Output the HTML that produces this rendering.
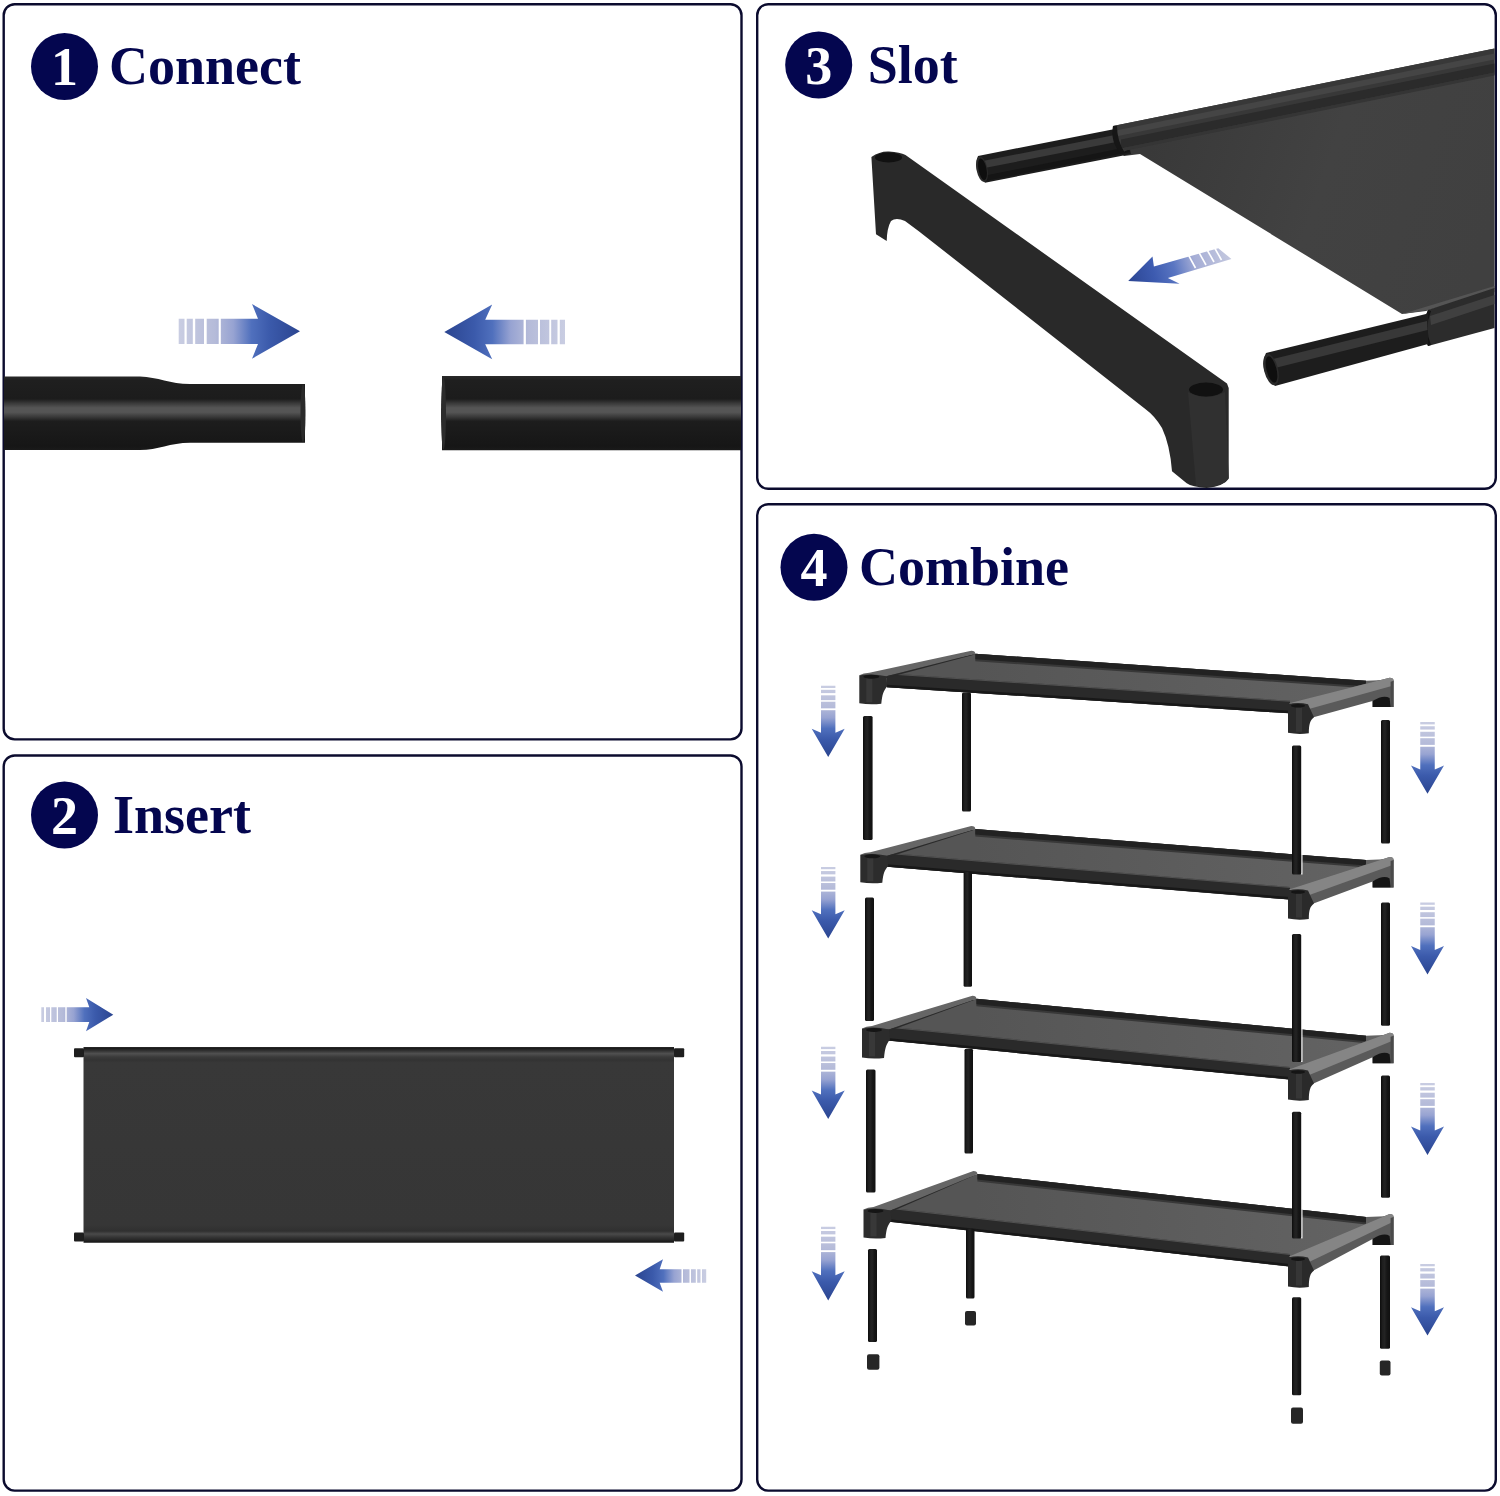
<!DOCTYPE html><html><head><meta charset="utf-8"><style>html,body{margin:0;padding:0;background:#fff;}body{width:1500px;height:1496px;overflow:hidden;font-family:"Liberation Serif",serif;}svg{display:block}</style></head><body><svg width="1500" height="1496" viewBox="0 0 1500 1496"><defs><linearGradient id="tubeg" gradientUnits="userSpaceOnUse" x1="0" y1="376" x2="0" y2="450"><stop offset="0" stop-color="#2a2a2a"/><stop offset="0.06" stop-color="#1f1f1f"/><stop offset="0.31" stop-color="#1c1c1c"/><stop offset="0.37" stop-color="#3a3a3a"/><stop offset="0.43" stop-color="#555555"/><stop offset="0.49" stop-color="#555555"/><stop offset="0.55" stop-color="#3a3a3a"/><stop offset="0.61" stop-color="#1d1d1d"/><stop offset="0.95" stop-color="#161616"/><stop offset="1" stop-color="#1a1a1a"/></linearGradient><linearGradient id="ag1" gradientUnits="userSpaceOnUse" x1="178.7" y1="0" x2="300" y2="0"><stop offset="0" stop-color="#c9cde2"/><stop offset="0.3" stop-color="#b5bbd9"/><stop offset="0.45" stop-color="#97a3d2"/><stop offset="0.6" stop-color="#5070bd"/><stop offset="0.75" stop-color="#3b5aab"/><stop offset="1" stop-color="#2b4590"/></linearGradient><linearGradient id="ag2" gradientUnits="userSpaceOnUse" x1="565" y1="0" x2="444.3" y2="0"><stop offset="0" stop-color="#c9cde2"/><stop offset="0.3" stop-color="#b5bbd9"/><stop offset="0.45" stop-color="#97a3d2"/><stop offset="0.6" stop-color="#5070bd"/><stop offset="0.75" stop-color="#3b5aab"/><stop offset="1" stop-color="#2b4590"/></linearGradient><linearGradient id="shelf2" gradientUnits="userSpaceOnUse" x1="0" y1="1047" x2="0" y2="1243"><stop offset="0.0000" stop-color="#2a2a2a"/><stop offset="0.0077" stop-color="#1c1c1c"/><stop offset="0.0179" stop-color="#303030"/><stop offset="0.0337" stop-color="#505050"/><stop offset="0.0510" stop-color="#3a3a3a"/><stop offset="0.0663" stop-color="#333333"/><stop offset="0.0816" stop-color="#383838"/><stop offset="0.9082" stop-color="#363636"/><stop offset="0.9388" stop-color="#303030"/><stop offset="0.9541" stop-color="#4a4a4a"/><stop offset="0.9694" stop-color="#363636"/><stop offset="0.9847" stop-color="#262626"/><stop offset="0.9923" stop-color="#1c1c1c"/><stop offset="1.0000" stop-color="#2a2a2a"/></linearGradient><linearGradient id="ag3" gradientUnits="userSpaceOnUse" x1="41.3" y1="0" x2="113.3" y2="0"><stop offset="0" stop-color="#c9cde2"/><stop offset="0.3" stop-color="#b5bbd9"/><stop offset="0.45" stop-color="#97a3d2"/><stop offset="0.6" stop-color="#5070bd"/><stop offset="0.75" stop-color="#3b5aab"/><stop offset="1" stop-color="#2b4590"/></linearGradient><linearGradient id="ag4" gradientUnits="userSpaceOnUse" x1="706.2" y1="0" x2="635" y2="0"><stop offset="0" stop-color="#c9cde2"/><stop offset="0.3" stop-color="#b5bbd9"/><stop offset="0.45" stop-color="#97a3d2"/><stop offset="0.6" stop-color="#5070bd"/><stop offset="0.75" stop-color="#3b5aab"/><stop offset="1" stop-color="#2b4590"/></linearGradient><linearGradient id="fab3" gradientUnits="userSpaceOnUse" x1="1150" y1="150" x2="1480" y2="260"><stop offset="0" stop-color="#393939"/><stop offset="0.5" stop-color="#424242"/><stop offset="1" stop-color="#404040"/></linearGradient><linearGradient id="ag5" gradientUnits="userSpaceOnUse" x1="1231" y1="252" x2="1128" y2="281"><stop offset="0" stop-color="#c5c9df"/><stop offset="0.35" stop-color="#a6aed6"/><stop offset="0.55" stop-color="#5a76c2"/><stop offset="0.75" stop-color="#3d5bb0"/><stop offset="1" stop-color="#2b4592"/></linearGradient><linearGradient id="legg" x1="0" y1="0" x2="1" y2="0"><stop offset="0" stop-color="#0c0c0c"/><stop offset="0.25" stop-color="#1e1e1e"/><stop offset="0.45" stop-color="#232323"/><stop offset="0.7" stop-color="#161616"/><stop offset="1" stop-color="#101010"/></linearGradient><linearGradient id="dl0" gradientUnits="userSpaceOnUse" x1="0" y1="685.7" x2="0" y2="756.9"><stop offset="0" stop-color="#c9cde2"/><stop offset="0.3" stop-color="#b5bbd9"/><stop offset="0.45" stop-color="#97a3d2"/><stop offset="0.6" stop-color="#5070bd"/><stop offset="0.75" stop-color="#3b5aab"/><stop offset="1" stop-color="#2b4590"/></linearGradient><linearGradient id="dl1" gradientUnits="userSpaceOnUse" x1="0" y1="866.9" x2="0" y2="938.6"><stop offset="0" stop-color="#c9cde2"/><stop offset="0.3" stop-color="#b5bbd9"/><stop offset="0.45" stop-color="#97a3d2"/><stop offset="0.6" stop-color="#5070bd"/><stop offset="0.75" stop-color="#3b5aab"/><stop offset="1" stop-color="#2b4590"/></linearGradient><linearGradient id="dl2" gradientUnits="userSpaceOnUse" x1="0" y1="1046.8" x2="0" y2="1119"><stop offset="0" stop-color="#c9cde2"/><stop offset="0.3" stop-color="#b5bbd9"/><stop offset="0.45" stop-color="#97a3d2"/><stop offset="0.6" stop-color="#5070bd"/><stop offset="0.75" stop-color="#3b5aab"/><stop offset="1" stop-color="#2b4590"/></linearGradient><linearGradient id="dl3" gradientUnits="userSpaceOnUse" x1="0" y1="1226.7" x2="0" y2="1300.5"><stop offset="0" stop-color="#c9cde2"/><stop offset="0.3" stop-color="#b5bbd9"/><stop offset="0.45" stop-color="#97a3d2"/><stop offset="0.6" stop-color="#5070bd"/><stop offset="0.75" stop-color="#3b5aab"/><stop offset="1" stop-color="#2b4590"/></linearGradient><linearGradient id="dr0" gradientUnits="userSpaceOnUse" x1="0" y1="722.1" x2="0" y2="793.7"><stop offset="0" stop-color="#c9cde2"/><stop offset="0.3" stop-color="#b5bbd9"/><stop offset="0.45" stop-color="#97a3d2"/><stop offset="0.6" stop-color="#5070bd"/><stop offset="0.75" stop-color="#3b5aab"/><stop offset="1" stop-color="#2b4590"/></linearGradient><linearGradient id="dr1" gradientUnits="userSpaceOnUse" x1="0" y1="902.5" x2="0" y2="974.4"><stop offset="0" stop-color="#c9cde2"/><stop offset="0.3" stop-color="#b5bbd9"/><stop offset="0.45" stop-color="#97a3d2"/><stop offset="0.6" stop-color="#5070bd"/><stop offset="0.75" stop-color="#3b5aab"/><stop offset="1" stop-color="#2b4590"/></linearGradient><linearGradient id="dr2" gradientUnits="userSpaceOnUse" x1="0" y1="1083" x2="0" y2="1154.9"><stop offset="0" stop-color="#c9cde2"/><stop offset="0.3" stop-color="#b5bbd9"/><stop offset="0.45" stop-color="#97a3d2"/><stop offset="0.6" stop-color="#5070bd"/><stop offset="0.75" stop-color="#3b5aab"/><stop offset="1" stop-color="#2b4590"/></linearGradient><linearGradient id="dr3" gradientUnits="userSpaceOnUse" x1="0" y1="1264" x2="0" y2="1335.5"><stop offset="0" stop-color="#c9cde2"/><stop offset="0.3" stop-color="#b5bbd9"/><stop offset="0.45" stop-color="#97a3d2"/><stop offset="0.6" stop-color="#5070bd"/><stop offset="0.75" stop-color="#3b5aab"/><stop offset="1" stop-color="#2b4590"/></linearGradient></defs><rect x="3.7" y="4.2" width="737.8000000000001" height="735.2" rx="11" ry="11" fill="none" stroke="#0b0b2e" stroke-width="2.4"/><rect x="3.7" y="755.5" width="737.8000000000001" height="735.1" rx="11" ry="11" fill="none" stroke="#0b0b2e" stroke-width="2.4"/><rect x="757.2" y="4.2" width="738.6" height="484.6" rx="11" ry="11" fill="none" stroke="#0b0b2e" stroke-width="2.4"/><rect x="757.2" y="504.2" width="738.6" height="986.4" rx="11" ry="11" fill="none" stroke="#0b0b2e" stroke-width="2.4"/><circle cx="64.5" cy="66.5" r="33.5" fill="#04064f"/><text x="64.5" y="85.0" text-anchor="middle" font-family="Liberation Serif" font-weight="bold" font-size="54" fill="#fff">1</text><text x="109" y="83.5" font-family="Liberation Serif" font-weight="bold" font-size="54" fill="#04064f">Connect</text><circle cx="818.7" cy="65" r="33.5" fill="#04064f"/><text x="818.7" y="83.5" text-anchor="middle" font-family="Liberation Serif" font-weight="bold" font-size="54" fill="#fff">3</text><text x="867.7" y="83" font-family="Liberation Serif" font-weight="bold" font-size="54" fill="#04064f">Slot</text><circle cx="64.5" cy="815" r="33.5" fill="#04064f"/><text x="64.5" y="833.5" text-anchor="middle" font-family="Liberation Serif" font-weight="bold" font-size="54" fill="#fff">2</text><text x="113" y="832.5" font-family="Liberation Serif" font-weight="bold" font-size="54" fill="#04064f">Insert</text><circle cx="814" cy="567.3" r="33.5" fill="#04064f"/><text x="814" y="585.8" text-anchor="middle" font-family="Liberation Serif" font-weight="bold" font-size="54" fill="#fff">4</text><text x="859" y="585" font-family="Liberation Serif" font-weight="bold" font-size="54" fill="#04064f">Combine</text><path d="M4,376.5 L140,376.5 C158,377 170,384 190,384 L305,384 L305,442.7 L190,442.7 C170,442.7 158,450 140,450 L4,450 Z" fill="url(#tubeg)"/><ellipse cx="303" cy="413.3" rx="2.5" ry="29" fill="#2a2a2a"/><path d="M442,376.1 L741,376.1 L741,450.3 L442,450.3 Z" fill="url(#tubeg)"/><ellipse cx="443.5" cy="413.2" rx="2.5" ry="36" fill="#2c2c2c"/><path d="M178.7,318.7 L258,318.7 L252,304 L300,331.35 L252,358.7 L258,344 L178.7,344 Z" fill="url(#ag1)"/><rect x="184.5" y="317.7" width="2.1999999999999886" height="27.30000000000001" fill="#fff"/><rect x="192.8" y="317.7" width="2.3999999999999773" height="27.30000000000001" fill="#fff"/><rect x="204" y="317.7" width="2.6999999999999886" height="27.30000000000001" fill="#fff"/><rect x="218.7" y="317.7" width="2.1000000000000227" height="27.30000000000001" fill="#fff"/><path d="M565,319.7 L485.2,319.7 L492.2,304.5 L444.3,331.9 L492.2,359.3 L485.2,344.2 L565,344.2 Z" fill="url(#ag2)"/><rect x="538" y="318.7" width="2" height="26.5" fill="#fff"/><rect x="549.3" y="318.7" width="1.900000000000091" height="26.5" fill="#fff"/><rect x="557.5" y="318.7" width="2.2999999999999545" height="26.5" fill="#fff"/><rect x="523.6" y="318.7" width="2.2999999999999545" height="26.5" fill="#fff"/><rect x="83.5" y="1047" width="590.5" height="195.8" fill="url(#shelf2)"/><rect x="74" y="1048.2" width="10" height="9" rx="1" fill="#1e1e1e"/><rect x="74" y="1232.6" width="10" height="9" rx="1" fill="#1e1e1e"/><rect x="674" y="1048.2" width="10.200000000000045" height="9" rx="1" fill="#1e1e1e"/><rect x="674" y="1232.6" width="10.200000000000045" height="9" rx="1" fill="#1e1e1e"/><path d="M41.3,1007.3 L89.3,1007.3 L86,998 L113.3,1014.65 L86,1031.3 L89.3,1022 L41.3,1022 Z" fill="url(#ag3)"/><rect x="44" y="1006.3" width="2" height="16.700000000000045" fill="#fff"/><rect x="50" y="1006.3" width="1.2999999999999972" height="16.700000000000045" fill="#fff"/><rect x="56.7" y="1006.3" width="1.2999999999999972" height="16.700000000000045" fill="#fff"/><rect x="65.3" y="1006.3" width="1.4000000000000057" height="16.700000000000045" fill="#fff"/><path d="M706.2,1269.2 L659.7,1269.2 L663,1259.2 L635,1275.45 L663,1291.7 L659.7,1282.7 L706.2,1282.7 Z" fill="url(#ag4)"/><rect x="700.5" y="1268.2" width="1.5" height="15.5" fill="#fff"/><rect x="695.8" y="1268.2" width="1.400000000000091" height="15.5" fill="#fff"/><rect x="689.5" y="1268.2" width="1.5" height="15.5" fill="#fff"/><rect x="681.5" y="1268.2" width="1.5" height="15.5" fill="#fff"/><path d="M1113,126 L1494.5,48.5 L1494.5,289 L1426,311 L1402,314 L1140,154 L1124,156 L1118,150 Z" fill="url(#fab3)"/><path d="M978,156 L1125,127 L1131,154 L985,182.7 Q972,170 978,156 Z" fill="#1d1d1d"/><path d="M980,161.5 L1125,133 L1126.5,140 L982,168.5 Z" fill="#3a3a3a"/><path d="M983,176 L1128,147 L1130,152 L985,181 Z" fill="#151515"/><ellipse cx="982" cy="169.3" rx="5.5" ry="13" transform="rotate(-11 982 169.3)" fill="#2a2a2a"/><ellipse cx="982.5" cy="169.3" rx="4" ry="11" transform="rotate(-11 982.5 169.3)" fill="#0e0e0e"/><path d="M1113,126 L1494.5,48.5 L1494.5,74.5 L1126,150.4 L1122,153 Q1112,140 1113,126 Z" fill="#383838"/><path d="M1117,130.2 L1494.5,53.5 L1494.5,59.5 L1117,136.2 Z" fill="#454545"/><path d="M1121,139.4 L1494.5,63.5 L1494.5,72.5 L1121,148.4 Z" fill="#2b2b2b"/><path d="M1124,147.8 L1494.5,72.5 L1494.5,75.5 L1124,150.8 Z" fill="#353535"/><path d="M1113,126 Q1110,142 1121,154 L1125,153 Q1117,141 1117,126 Z" fill="#161616"/><path d="M1402,314 L1494.5,286 L1494.5,292 L1428,310 Z" fill="#555"/><path d="M1428,310 L1494.5,288 L1494.5,328 L1428,346 Q1420,328 1428,310 Z" fill="#2c2c2c"/><path d="M1430,316 L1494.5,295 L1494.5,304 L1431,325 Z" fill="#404040"/><path d="M1428,310 Q1420,328 1428,346 L1431,345 Q1424,328 1431,311 Z" fill="#141414"/><path d="M1266,353 L1428,313.5 L1428,344 L1275,386 Q1258,370 1266,353 Z" fill="#1d1d1d"/><path d="M1269,360 L1427,321 L1427.5,330 L1271,369 Z" fill="#383838"/><ellipse cx="1271" cy="369.5" rx="7" ry="16" transform="rotate(-14 1271 369.5)" fill="#2a2a2a"/><ellipse cx="1271.5" cy="369.5" rx="5" ry="13.5" transform="rotate(-14 1271.5 369.5)" fill="#0e0e0e"/><path d="M871.4,157 Q880,151 889,151.5 Q900,152 905.5,155.1 L1227,383.4 L1228.7,388 L1228.7,478.7 Q1224,486 1206.7,488 Q1192,487 1186.7,483.3 L1172,471.3 Q1170,445 1162,428 Q1155,416 1145.6,409.2 L918.8,231.2 L905,221 Q896,217 891,221 Q887,228 886.7,241 L876,234.3 Z" fill="#292929"/><ellipse cx="888.5" cy="157.5" rx="13.5" ry="5" fill="#111"/><ellipse cx="1206" cy="389.6" rx="17" ry="7" fill="#111"/><path d="M1188,392 Q1206,402 1225,392 L1228.7,478 Q1224,486 1208,487 L1196,486 Z" fill="#303030"/><path d="M1128.2,280.9 L1152.5,256.6 L1153.9,266.4 L1218.3,248.2 L1231.4,259 L1167.9,278.1 L1179.6,283.7 Z" fill="url(#ag5)"/><line x1="1186.5" y1="251.5" x2="1195.5" y2="268" stroke="#fff" stroke-width="1.6"/><line x1="1197" y1="249" x2="1206" y2="265" stroke="#fff" stroke-width="1.6"/><line x1="1205.5" y1="247" x2="1214" y2="262" stroke="#fff" stroke-width="1.6"/><line x1="1213" y1="245" x2="1221.5" y2="260" stroke="#fff" stroke-width="1.6"/><linearGradient id="fab674" gradientUnits="userSpaceOnUse" x1="975" y1="0" x2="1370" y2="0"><stop offset="0" stop-color="#555555"/><stop offset="1" stop-color="#636363"/></linearGradient><path d="M879.3,674.2 L975.3,653.7 L1366,680.7 L1391.6,679.7 L1289.0,705.3 L1288.0,713.3 L887.3,687.2 Z" fill="url(#fab674)"/><path d="M975.3,653.7 L1366,680.7 L1366,688.2 L975.3,661.2 Z" fill="#383838"/><path d="M975.3,653.7 L1366,680.7 L1366,686.2 L975.3,659.2 Z" fill="#222222"/><path d="M887,673.2 L1290.0,700.8 L1290.0,713.3 L887,687.2 Z" fill="#2a2a2a"/><path d="M887,684.7 L1290.0,710.8 L1290.0,713.3 L887,687.2 Z" fill="#181818"/><path d="M887,673.2 L1290.0,700.8 L1290.0,701.8 L887,674.2 Z" fill="#6a6a6a" opacity="0.6"/><path d="M859.3,675.2 Q863.3,672.7 869.3,672.7 L971.3,650.7 Q975.3,650.7 975.3,653.7 L886.3,676.2 Z" fill="#666"/><path d="M886.3,676.2 L975.3,653.7 L972.3,655.2 L885.3,678.2 Z" fill="#2a2a2a"/><path d="M859.3,675.2 L859.3,703.2 Q870.3,705.2 881.3,703.7 C882.3,694.2 883.3,691.2 887.3,686.2 L886.3,676.2 Q873.3,673.2 859.3,675.2 Z" fill="#2c2c2c"/><rect x="866.3" y="678.2" width="6" height="24.0" fill="#383838"/><ellipse cx="871.3" cy="676.7" rx="8" ry="2" fill="#151515"/><path d="M1289.0,703.3 L1389.6,677.7 Q1393.6,677.7 1393.6,680.7 L1393.6,707.1 L1372.6,707.1 L1372.6,701.1 L1313.5,717.1999999999999 Z" fill="#5a5a5a"/><path d="M1289.0,703.3 L1389.6,677.7 Q1393.6,677.7 1393.6,680.7 L1392.6,685.7 L1308.0,709.3 Z" fill="#858585"/><path d="M1390.6,681.7 L1393.6,680.7 L1393.6,707.1 L1390.6,707.1 Z" fill="#4a4a4a"/><path d="M1372.6,701.1 Q1383.6,694.1 1389.6,698.1 L1390.6,707.1 L1372.6,707.1 Z" fill="#151515"/><path d="M1288.0,704.3 L1288.0,732.8 Q1298.0,734.8 1308.8,733.3 C1309.0,723.8 1310.0,720.3 1314.0,717.1999999999999 L1308.0,704.3 Q1298.0,701.8 1288.0,704.3 Z" fill="#2a2a2a"/><rect x="1296.0" y="707.3" width="6" height="24.5" fill="#363636"/><ellipse cx="1298.0" cy="705.8" rx="7" ry="1.8" fill="#151515"/><linearGradient id="fab853" gradientUnits="userSpaceOnUse" x1="975" y1="0" x2="1370" y2="0"><stop offset="0" stop-color="#555555"/><stop offset="1" stop-color="#636363"/></linearGradient><path d="M880.3,853.8 L975.3,829.0 L1366,860.0 L1391.6,859.0 L1289.0,891.5 L1288.0,899.5 L888.3,866.8 Z" fill="url(#fab853)"/><path d="M975.3,829.0 L1366,860.0 L1366,867.5 L975.3,836.5 Z" fill="#383838"/><path d="M975.3,829.0 L1366,860.0 L1366,865.5 L975.3,834.5 Z" fill="#222222"/><path d="M887,852.8 L1290.0,887.0 L1290.0,899.5 L887,866.8 Z" fill="#2a2a2a"/><path d="M887,864.3 L1290.0,897.0 L1290.0,899.5 L887,866.8 Z" fill="#181818"/><path d="M887,852.8 L1290.0,887.0 L1290.0,888.0 L887,853.8 Z" fill="#6a6a6a" opacity="0.6"/><path d="M860.3,854.8 Q864.3,852.3 870.3,852.3 L971.3,826.0 Q975.3,826.0 975.3,829.0 L887.3,855.8 Z" fill="#666"/><path d="M887.3,855.8 L975.3,829.0 L972.3,830.5 L886.3,857.8 Z" fill="#2a2a2a"/><path d="M860.3,854.8 L860.3,882.2 Q871.3,884.2 882.3,882.7 C883.3,873.2 884.3,870.8 888.3,865.8 L887.3,855.8 Q874.3,852.8 860.3,854.8 Z" fill="#2c2c2c"/><rect x="867.3" y="857.8" width="6" height="23.40000000000009" fill="#383838"/><ellipse cx="872.3" cy="856.3" rx="8" ry="2" fill="#151515"/><path d="M1289.0,889.5 L1389.6,857.0 Q1393.6,857.0 1393.6,860.0 L1393.6,887.5 L1372.6,887.5 L1372.6,881.5 L1313.5,903.4 Z" fill="#5a5a5a"/><path d="M1289.0,889.5 L1389.6,857.0 Q1393.6,857.0 1393.6,860.0 L1392.6,865.0 L1308.0,895.5 Z" fill="#858585"/><path d="M1390.6,861.0 L1393.6,860.0 L1393.6,887.5 L1390.6,887.5 Z" fill="#4a4a4a"/><path d="M1372.6,881.5 Q1383.6,874.5 1389.6,878.5 L1390.6,887.5 L1372.6,887.5 Z" fill="#151515"/><path d="M1288.0,890.5 L1288.0,918.5 Q1298.0,920.5 1308.8,919.0 C1309.0,909.5 1310.0,906.5 1314.0,903.4 L1308.0,890.5 Q1298.0,888.0 1288.0,890.5 Z" fill="#2a2a2a"/><rect x="1296.0" y="893.5" width="6" height="24.0" fill="#363636"/><ellipse cx="1298.0" cy="892.0" rx="7" ry="1.8" fill="#151515"/><linearGradient id="fab1027" gradientUnits="userSpaceOnUse" x1="975" y1="0" x2="1370" y2="0"><stop offset="0" stop-color="#555555"/><stop offset="1" stop-color="#636363"/></linearGradient><path d="M882.0,1027.4 L976.4,998.8 L1366,1035.7 L1391.6,1034.7 L1289.0,1071.5 L1288.0,1079.5 L890.0,1040.4 Z" fill="url(#fab1027)"/><path d="M976.4,998.8 L1366,1035.7 L1366,1043.2 L976.4,1006.3 Z" fill="#383838"/><path d="M976.4,998.8 L1366,1035.7 L1366,1041.2 L976.4,1004.3 Z" fill="#222222"/><path d="M887,1026.4 L1290.0,1067.0 L1290.0,1079.5 L887,1040.4 Z" fill="#2a2a2a"/><path d="M887,1037.9 L1290.0,1077.0 L1290.0,1079.5 L887,1040.4 Z" fill="#181818"/><path d="M887,1026.4 L1290.0,1067.0 L1290.0,1068.0 L887,1027.4 Z" fill="#6a6a6a" opacity="0.6"/><path d="M862.0,1028.4 Q866.0,1025.9 872.0,1025.9 L972.4,995.8 Q976.4,995.8 976.4,998.8 L889.0,1029.4 Z" fill="#666"/><path d="M889.0,1029.4 L976.4,998.8 L973.4,1000.3 L888.0,1031.4 Z" fill="#2a2a2a"/><path d="M862.0,1028.4 L862.0,1057.4 Q873.0,1059.4 884.0,1057.9 C885.0,1048.4 886.0,1044.4 890.0,1039.4 L889.0,1029.4 Q876.0,1026.4 862.0,1028.4 Z" fill="#2c2c2c"/><rect x="869.0" y="1031.4" width="6" height="25.0" fill="#383838"/><ellipse cx="874.0" cy="1029.9" rx="8" ry="2" fill="#151515"/><path d="M1289.0,1069.5 L1389.6,1032.7 Q1393.6,1032.7 1393.6,1035.7 L1393.6,1063.2 L1372.6,1063.2 L1372.6,1057.2 L1313.5,1083.4 Z" fill="#5a5a5a"/><path d="M1289.0,1069.5 L1389.6,1032.7 Q1393.6,1032.7 1393.6,1035.7 L1392.6,1040.7 L1308.0,1075.5 Z" fill="#858585"/><path d="M1390.6,1036.7 L1393.6,1035.7 L1393.6,1063.2 L1390.6,1063.2 Z" fill="#4a4a4a"/><path d="M1372.6,1057.2 Q1383.6,1050.2 1389.6,1054.2 L1390.6,1063.2 L1372.6,1063.2 Z" fill="#151515"/><path d="M1288.0,1070.5 L1288.0,1099.5 Q1298.0,1101.5 1308.8,1100.0 C1309.0,1090.5 1310.0,1086.5 1314.0,1083.4 L1308.0,1070.5 Q1298.0,1068.0 1288.0,1070.5 Z" fill="#2a2a2a"/><rect x="1296.0" y="1073.5" width="6" height="25.0" fill="#363636"/><ellipse cx="1298.0" cy="1072.0" rx="7" ry="1.8" fill="#151515"/><linearGradient id="fab1208" gradientUnits="userSpaceOnUse" x1="975" y1="0" x2="1370" y2="0"><stop offset="0" stop-color="#555555"/><stop offset="1" stop-color="#636363"/></linearGradient><path d="M883.5,1208.4 L977.4,1174.0 L1366,1216.9 L1391.6,1215.9 L1289.0,1258.6 L1288.0,1266.6 L891.5,1221.4 Z" fill="url(#fab1208)"/><path d="M977.4,1174.0 L1366,1216.9 L1366,1224.4 L977.4,1181.5 Z" fill="#383838"/><path d="M977.4,1174.0 L1366,1216.9 L1366,1222.4 L977.4,1179.5 Z" fill="#222222"/><path d="M887,1207.4 L1290.0,1254.1 L1290.0,1266.6 L887,1221.4 Z" fill="#2a2a2a"/><path d="M887,1218.9 L1290.0,1264.1 L1290.0,1266.6 L887,1221.4 Z" fill="#181818"/><path d="M887,1207.4 L1290.0,1254.1 L1290.0,1255.1 L887,1208.4 Z" fill="#6a6a6a" opacity="0.6"/><path d="M863.5,1209.4 Q867.5,1206.9 873.5,1206.9 L973.4,1171.0 Q977.4,1171.0 977.4,1174.0 L890.5,1210.4 Z" fill="#666"/><path d="M890.5,1210.4 L977.4,1174.0 L974.4,1175.5 L889.5,1212.4 Z" fill="#2a2a2a"/><path d="M863.5,1209.4 L863.5,1237.4 Q874.5,1239.4 885.5,1237.9 C886.5,1228.4 887.5,1225.4 891.5,1220.4 L890.5,1210.4 Q877.5,1207.4 863.5,1209.4 Z" fill="#2c2c2c"/><rect x="870.5" y="1212.4" width="6" height="24.0" fill="#383838"/><ellipse cx="875.5" cy="1210.9" rx="8" ry="2" fill="#151515"/><path d="M1289.0,1256.6 L1389.6,1213.9 Q1393.6,1213.9 1393.6,1216.9 L1393.6,1245.0 L1372.6,1245.0 L1372.6,1239.0 L1313.5,1270.5 Z" fill="#5a5a5a"/><path d="M1289.0,1256.6 L1389.6,1213.9 Q1393.6,1213.9 1393.6,1216.9 L1392.6,1221.9 L1308.0,1262.6 Z" fill="#858585"/><path d="M1390.6,1217.9 L1393.6,1216.9 L1393.6,1245.0 L1390.6,1245.0 Z" fill="#4a4a4a"/><path d="M1372.6,1239.0 Q1383.6,1232.0 1389.6,1236.0 L1390.6,1245.0 L1372.6,1245.0 Z" fill="#151515"/><path d="M1288.0,1257.6 L1288.0,1286.6 Q1298.0,1288.6 1308.8,1287.1 C1309.0,1277.6 1310.0,1273.6 1314.0,1270.5 L1308.0,1257.6 Q1298.0,1255.1 1288.0,1257.6 Z" fill="#2a2a2a"/><rect x="1296.0" y="1260.6" width="6" height="25.0" fill="#363636"/><ellipse cx="1298.0" cy="1259.1" rx="7" ry="1.8" fill="#151515"/><rect x="863" y="716" width="9.600000000000023" height="123.89999999999998" rx="1.5" fill="url(#legg)"/><rect x="865" y="897.6" width="9" height="123.39999999999998" rx="1.5" fill="url(#legg)"/><rect x="866" y="1069.6" width="9.5" height="122.80000000000018" rx="1.5" fill="url(#legg)"/><rect x="868" y="1249" width="9" height="92.90000000000009" rx="1.5" fill="url(#legg)"/><rect x="962" y="692.4" width="9" height="119.20000000000005" rx="1.5" fill="url(#legg)"/><rect x="963.6" y="872" width="8.399999999999977" height="114.70000000000005" rx="1.5" fill="url(#legg)"/><rect x="964.5" y="1048.8" width="8.5" height="104.60000000000014" rx="1.5" fill="url(#legg)"/><rect x="966" y="1228.8" width="8.5" height="69.79999999999995" rx="1.5" fill="url(#legg)"/><rect x="1301.2" y="753.6" width="1.3" height="120.89999999999998" fill="#fff"/><rect x="1292" y="745.6" width="9.200000000000045" height="128.89999999999998" rx="1.5" fill="url(#legg)"/><rect x="1301.2" y="941.9" width="1.3" height="120.10000000000002" fill="#fff"/><rect x="1292" y="933.9" width="9.200000000000045" height="128.10000000000002" rx="1.5" fill="url(#legg)"/><rect x="1301.2" y="1119.8" width="1.3" height="118.60000000000014" fill="#fff"/><rect x="1292" y="1111.8" width="9.200000000000045" height="126.60000000000014" rx="1.5" fill="url(#legg)"/><rect x="1292" y="1297.3" width="9.200000000000045" height="97.90000000000009" rx="1.5" fill="url(#legg)"/><rect x="1381" y="719.9" width="9" height="123.60000000000002" rx="1.5" fill="url(#legg)"/><rect x="1381" y="902.4" width="9" height="123.30000000000007" rx="1.5" fill="url(#legg)"/><rect x="1381" y="1075.4" width="9" height="122.39999999999986" rx="1.5" fill="url(#legg)"/><rect x="1380" y="1255.6" width="10" height="93.20000000000005" rx="1.5" fill="url(#legg)"/><rect x="867" y="1354.2" width="12.399999999999977" height="15.5" rx="2" fill="#262626"/><rect x="965" y="1311" width="11" height="14.599999999999909" rx="2" fill="#262626"/><rect x="1291" y="1407.6" width="12" height="16.200000000000045" rx="2" fill="#262626"/><rect x="1379.8" y="1360.4" width="10.700000000000045" height="15.099999999999909" rx="2" fill="#262626"/><path d="M821.0,685.7 L835.4000000000001,685.7 L835.4000000000001,732.776 L844.7,728.776 L828.2,756.9 L811.7,728.776 L821.0,732.776 Z" fill="url(#dl0)"/><rect x="820.0" y="687.9784000000001" width="16.4" height="1.8511999999999489" fill="#fff"/><rect x="820.0" y="693.1048000000001" width="16.4" height="2.2071999999999434" fill="#fff"/><rect x="820.0" y="700.1536" width="16.4" height="1.5664000000000442" fill="#fff"/><rect x="820.0" y="708.3416" width="16.4" height="1.8512000000000626" fill="#fff"/><path d="M821.0,866.9 L835.4000000000001,866.9 L835.4000000000001,914.2785 L844.7,910.2785 L828.2,938.6 L811.7,910.2785 L821.0,914.2785 Z" fill="url(#dl1)"/><rect x="820.0" y="869.1944" width="16.4" height="1.8641999999999825" fill="#fff"/><rect x="820.0" y="874.3568" width="16.4" height="2.222699999999918" fill="#fff"/><rect x="820.0" y="881.4551" width="16.4" height="1.5774000000000115" fill="#fff"/><rect x="820.0" y="889.7006" width="16.4" height="1.8641999999999825" fill="#fff"/><path d="M821.0,1046.8 L835.4000000000001,1046.8 L835.4000000000001,1094.481 L844.7,1090.481 L828.2,1119 L811.7,1090.481 L821.0,1094.481 Z" fill="url(#dl2)"/><rect x="820.0" y="1049.1104" width="16.4" height="1.8771999999999025" fill="#fff"/><rect x="820.0" y="1054.3088" width="16.4" height="2.238200000000006" fill="#fff"/><rect x="820.0" y="1061.4566" width="16.4" height="1.5884000000000924" fill="#fff"/><rect x="820.0" y="1069.7595999999999" width="16.4" height="1.8772000000001299" fill="#fff"/><path d="M821.0,1226.7 L835.4000000000001,1226.7 L835.4000000000001,1275.349 L844.7,1271.349 L828.2,1300.5 L811.7,1271.349 L821.0,1275.349 Z" fill="url(#dl3)"/><rect x="820.0" y="1229.0616" width="16.4" height="1.9188000000001466" fill="#fff"/><rect x="820.0" y="1234.3752" width="16.4" height="2.287800000000061" fill="#fff"/><rect x="820.0" y="1241.6814" width="16.4" height="1.623600000000124" fill="#fff"/><rect x="820.0" y="1250.1684" width="16.4" height="1.9187999999999192" fill="#fff"/><path d="M1420.25,722.1 L1434.75,722.1 L1434.75,769.418 L1444.0,765.418 L1427.5,793.7 L1411.0,765.418 L1420.25,769.418 Z" fill="url(#dr0)"/><rect x="1419.25" y="724.3912" width="16.5" height="1.861599999999953" fill="#fff"/><rect x="1419.25" y="729.5464000000001" width="16.5" height="2.219600000000014" fill="#fff"/><rect x="1419.25" y="736.6348" width="16.5" height="1.5751999999999953" fill="#fff"/><rect x="1419.25" y="744.8688000000001" width="16.5" height="1.861599999999953" fill="#fff"/><path d="M1420.25,902.5 L1434.75,902.5 L1434.75,949.9995 L1444.0,945.9995 L1427.5,974.4 L1411.0,945.9995 L1420.25,949.9995 Z" fill="url(#dr1)"/><rect x="1419.25" y="904.8008" width="16.5" height="1.8694000000000415" fill="#fff"/><rect x="1419.25" y="909.9776" width="16.5" height="2.2288999999999533" fill="#fff"/><rect x="1419.25" y="917.0957" width="16.5" height="1.5818000000000438" fill="#fff"/><rect x="1419.25" y="925.3642" width="16.5" height="1.8694000000000415" fill="#fff"/><path d="M1420.25,1083 L1434.75,1083 L1434.75,1130.4995000000001 L1444.0,1126.4995000000001 L1427.5,1154.9 L1411.0,1126.4995000000001 L1420.25,1130.4995000000001 Z" fill="url(#dr2)"/><rect x="1419.25" y="1085.3008" width="16.5" height="1.8694000000000415" fill="#fff"/><rect x="1419.25" y="1090.4776" width="16.5" height="2.228900000000067" fill="#fff"/><rect x="1419.25" y="1097.5957" width="16.5" height="1.5817999999999302" fill="#fff"/><rect x="1419.25" y="1105.8642" width="16.5" height="1.8694000000000415" fill="#fff"/><path d="M1420.25,1264 L1434.75,1264 L1434.75,1311.2575 L1444.0,1307.2575 L1427.5,1335.5 L1411.0,1307.2575 L1420.25,1311.2575 Z" fill="url(#dr3)"/><rect x="1419.25" y="1266.288" width="16.5" height="1.8589999999999236" fill="#fff"/><rect x="1419.25" y="1271.436" width="16.5" height="2.2164999999999964" fill="#fff"/><rect x="1419.25" y="1278.5145" width="16.5" height="1.5730000000000928" fill="#fff"/><rect x="1419.25" y="1286.737" width="16.5" height="1.8589999999999236" fill="#fff"/></svg></body></html>
